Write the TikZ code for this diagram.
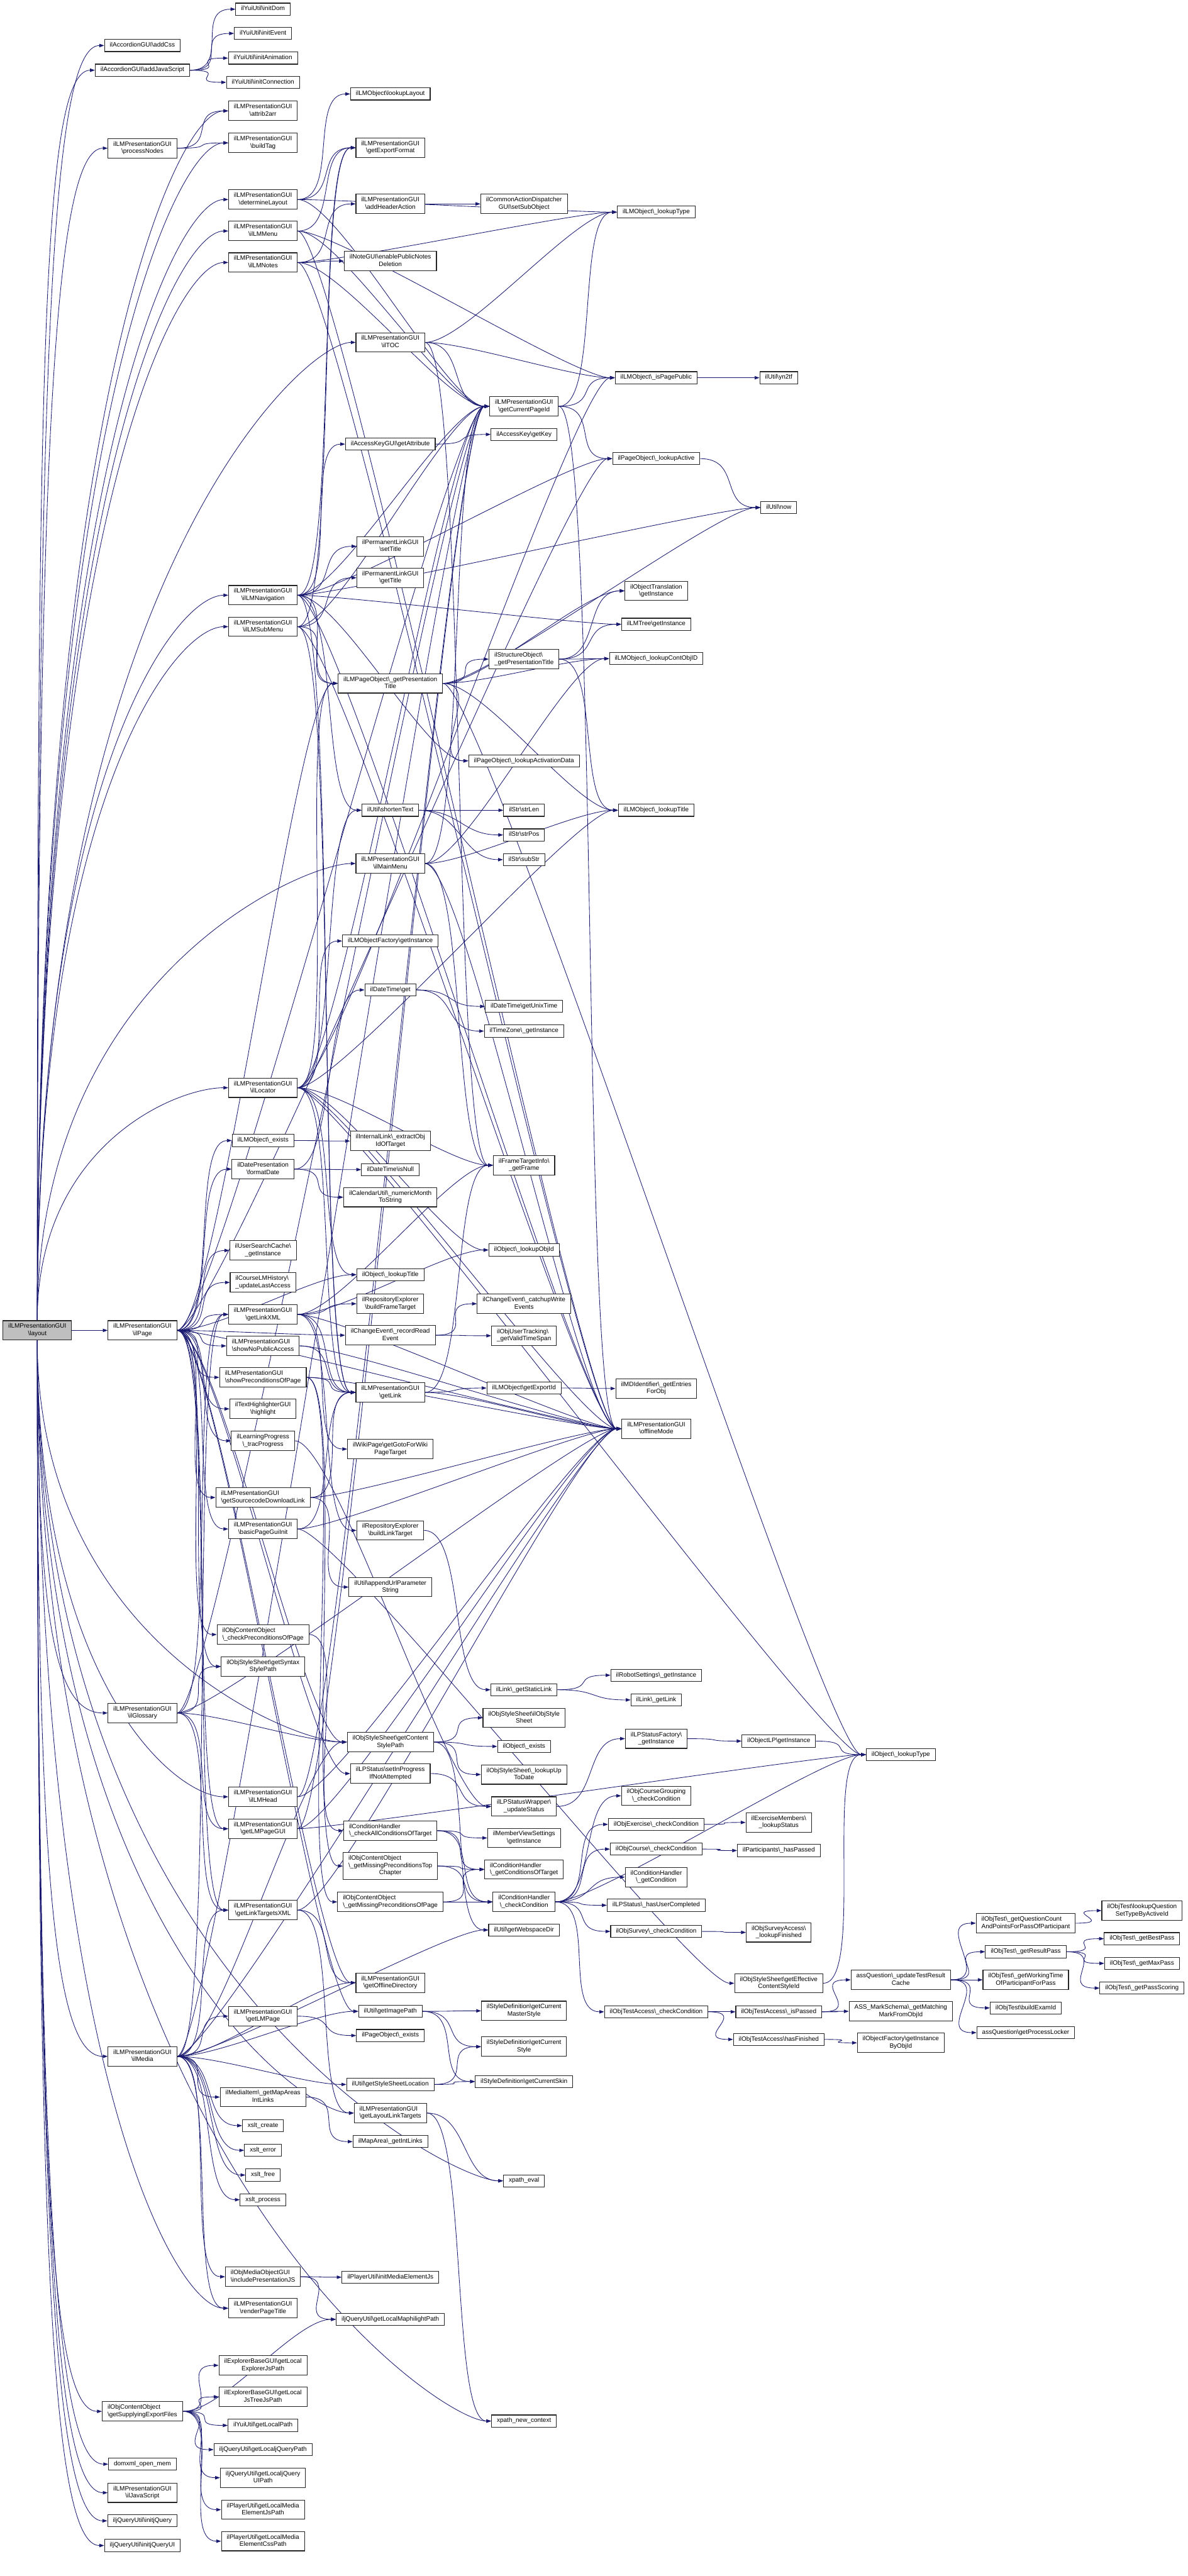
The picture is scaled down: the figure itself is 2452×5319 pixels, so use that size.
\documentclass[tikz,border=0pt]{standalone}
\usepackage{fontspec}
\setmainfont{Liberation Sans}
\usepackage{xcolor}
\usepackage{tikz}
\usetikzlibrary{arrows.meta,calc}
\pgfdeclarelayer{background}
\pgfsetlayers{background,main}
\definecolor{EdgeBlue}{RGB}{25,25,112}
\definecolor{CallerGray}{RGB}{191,191,191}
\newcommand{\bsl}{\textbackslash}
\newcommand{\twoln}[2]{\begin{tabular}{@{}l@{}}#1\\\multicolumn{1}{@{}c@{}}{#2}\end{tabular}}
\newcommand{\threeln}[3]{\begin{tabular}{@{}l@{}}#1\\#2\\\multicolumn{1}{@{}c@{}}{#3}\end{tabular}}

\begin{document}
\begin{tikzpicture}[
    x=1pt, y=1pt,
    fn/.style={draw=black!85, line width=1.4pt, fill=white, inner xsep=11pt, inner ysep=5pt, font=\fontsize{13}{15}\selectfont, execute at begin node=\strut},
    arr/.style={-{Triangle[length=10pt,width=7pt]}, EdgeBlue, line width=1.1pt,
        to path={(\tikztostart.east) .. controls +(85,0) and +(-85,0) .. (\tikztotarget.west)}},
    up/.style={to path={(\tikztostart.north) .. controls ($(\tikztostart.north)!0.75!(\tikztostart.north |- \tikztotarget.west)$) and +(-110,0) .. (\tikztotarget.west)}},
    dn/.style={to path={(\tikztostart.south) .. controls ($(\tikztostart.south)!0.75!(\tikztostart.south |- \tikztotarget.west)$) and +(-110,0) .. (\tikztotarget.west)}}
]
    \useasboundingbox (0,0) rectangle (2452,-5319);

    \node[fn, fill=CallerGray] (layout) at (77,-2747) {\twoln{ilLMPresentationGUI}{\bsl layout}};

    \node[fn] (addCss) at (294,-94) {ilAccordionGUI\bsl addCss};
    \node[fn] (addJs) at (294,-145) {ilAccordionGUI\bsl addJavaScript};
    \node[fn] (procNodes) at (294,-306) {\twoln{ilLMPresentationGUI}{\bsl processNodes}};
    \node[fn] (ilPage) at (294,-2747) {\twoln{ilLMPresentationGUI}{\bsl ilPage}};
    \node[fn] (ilGlossary) at (294,-3537) {\twoln{ilLMPresentationGUI}{\bsl ilGlossary}};
    \node[fn] (ilMedia) at (294,-4246) {\twoln{ilLMPresentationGUI}{\bsl ilMedia}};
    \node[fn] (supplyFiles) at (294,-4979) {\twoln{ilObjContentObject}{\bsl getSupplyingExportFiles}};
    \node[fn] (domxml) at (294,-5088) {domxml\_open\_mem};
    \node[fn] (ilJavaScript) at (294,-5147) {\twoln{ilLMPresentationGUI}{\bsl ilJavaScript}};
    \node[fn] (initjQuery) at (294,-5205) {iljQueryUtil\bsl initjQuery};
    \node[fn] (initjQueryUI) at (294,-5256) {iljQueryUtil\bsl initjQueryUI};

    \node[fn] (initDom) at (543,-19) {ilYuiUtil\bsl initDom};
    \node[fn] (initEvent) at (543,-69) {ilYuiUtil\bsl initEvent};
    \node[fn] (initAnim) at (543,-120) {ilYuiUtil\bsl initAnimation};
    \node[fn] (initConn) at (543,-170) {ilYuiUtil\bsl initConnection};
    \node[fn] (attrib) at (543,-229) {\twoln{ilLMPresentationGUI}{\bsl attrib2arr}};
    \node[fn] (buildTag) at (543,-295) {\twoln{ilLMPresentationGUI}{\bsl buildTag}};
    \node[fn] (detLayout) at (543,-412) {\twoln{ilLMPresentationGUI}{\bsl determineLayout}};
    \node[fn] (lmMenu) at (543,-477) {\twoln{ilLMPresentationGUI}{\bsl ilLMMenu}};
    \node[fn] (lmNotes) at (543,-542) {\twoln{ilLMPresentationGUI}{\bsl ilLMNotes}};
    \node[fn] (lmNav) at (543,-1229) {\twoln{ilLMPresentationGUI}{\bsl ilLMNavigation}};
    \node[fn] (lmSubMenu) at (543,-1294) {\twoln{ilLMPresentationGUI}{\bsl ilLMSubMenu}};
    \node[fn] (locator) at (543,-2246) {\twoln{ilLMPresentationGUI}{\bsl ilLocator}};
    \node[fn] (lmExists) at (543,-2355) {ilLMObject\bsl\_exists};
    \node[fn] (formatDate) at (543,-2414) {\twoln{ilDatePresentation}{\bsl formatDate}};
    \node[fn] (searchCache) at (543,-2582) {\twoln{ilUserSearchCache\bsl}{\_getInstance}};
    \node[fn] (lmHistory) at (543,-2648) {\twoln{ilCourseLMHistory\bsl}{\_updateLastAccess}};
    \node[fn] (linkXML) at (543,-2714) {\twoln{ilLMPresentationGUI}{\bsl getLinkXML}};
    \node[fn] (noPublic) at (543,-2779) {\twoln{ilLMPresentationGUI}{\bsl showNoPublicAccess}};
    \node[fn] (showPrecond) at (543,-2844) {\twoln{ilLMPresentationGUI}{\bsl showPreconditionsOfPage}};
    \node[fn] (highlight) at (543,-2909) {\twoln{ilTextHighlighterGUI}{\bsl highlight}};
    \node[fn] (tracProgress) at (543,-2975) {\twoln{ilLearningProgress}{\bsl\_tracProgress}};
    \node[fn] (srcLink) at (543,-3092) {\twoln{ilLMPresentationGUI}{\bsl getSourcecodeDownloadLink}};
    \node[fn] (basicInit) at (543,-3157) {\twoln{ilLMPresentationGUI}{\bsl basicPageGuiInit}};
    \node[fn] (checkPrecond) at (543,-3375) {\twoln{ilObjContentObject}{\bsl\_checkPreconditionsOfPage}};
    \node[fn] (syntaxStyle) at (543,-3441) {\twoln{ilObjStyleSheet\bsl getSyntax}{StylePath}};
    \node[fn] (lmHead) at (543,-3710) {\twoln{ilLMPresentationGUI}{\bsl ilLMHead}};
    \node[fn] (lmPageGUI) at (543,-3776) {\twoln{ilLMPresentationGUI}{\bsl getLMPageGUI}};
    \node[fn] (linkTargetsXML) at (543,-3944) {\twoln{ilLMPresentationGUI}{\bsl getLinkTargetsXML}};
    \node[fn] (getLMPage) at (543,-4163) {\twoln{ilLMPresentationGUI}{\bsl getLMPage}};
    \node[fn] (mapAreas) at (543,-4330) {\twoln{ilMediaItem\bsl\_getMapAreas}{IntLinks}};
    \node[fn] (xsltCreate) at (543,-4389) {xslt\_create};
    \node[fn] (xsltError) at (543,-4440) {xslt\_error};
    \node[fn] (xsltFree) at (543,-4491) {xslt\_free};
    \node[fn] (xsltProcess) at (543,-4542) {xslt\_process};
    \node[fn] (includeJS) at (543,-4701) {\twoln{ilObjMediaObjectGUI}{\bsl includePresentationJS}};
    \node[fn] (renderTitle) at (543,-4766) {\twoln{ilLMPresentationGUI}{\bsl renderPageTitle}};
    \node[fn] (explorerJs) at (543,-4884) {\twoln{ilExplorerBaseGUI\bsl getLocal}{ExplorerJsPath}};
    \node[fn] (jsTree) at (543,-4949) {\twoln{ilExplorerBaseGUI\bsl getLocal}{JsTreeJsPath}};
    \node[fn] (yuiLocal) at (543,-5008) {ilYuiUtil\bsl getLocalPath};
    \node[fn] (jQueryPath) at (543,-5058) {iljQueryUtil\bsl getLocaljQueryPath};
    \node[fn] (jQueryUIPath) at (543,-5116) {\twoln{iljQueryUtil\bsl getLocaljQuery}{UIPath}};
    \node[fn] (mediaJsPath) at (543,-5182) {\twoln{ilPlayerUtil\bsl getLocalMedia}{ElementJsPath}};
    \node[fn] (mediaCssPath) at (543,-5247) {\twoln{ilPlayerUtil\bsl getLocalMedia}{ElementCssPath}};

    \node[fn] (lookupLayout) at (806,-194) {ilLMObject\bsl lookupLayout};
    \node[fn] (exportFormat) at (806,-305) {\twoln{ilLMPresentationGUI}{\bsl getExportFormat}};
    \node[fn] (headerAction) at (806,-421) {\twoln{ilLMPresentationGUI}{\bsl addHeaderAction}};
    \node[fn] (notesDeletion) at (806,-539) {\twoln{ilNoteGUI\bsl enablePublicNotes}{Deletion}};
    \node[fn] (ilTOC) at (806,-707) {\twoln{ilLMPresentationGUI}{\bsl ilTOC}};
    \node[fn] (accessAttr) at (806,-917) {ilAccessKeyGUI\bsl getAttribute};
    \node[fn] (plSetTitle) at (806,-1128) {\twoln{ilPermanentLinkGUI}{\bsl setTitle}};
    \node[fn] (plGetTitle) at (806,-1193) {\twoln{ilPermanentLinkGUI}{\bsl getTitle}};
    \node[fn] (lmPageTitle) at (806,-1411) {\twoln{ilLMPageObject\bsl\_getPresentation}{Title}};
    \node[fn] (shorten) at (806,-1673) {ilUtil\bsl shortenText};
    \node[fn] (mainMenu) at (806,-1783) {\twoln{ilLMPresentationGUI}{\bsl ilMainMenu}};
    \node[fn] (lmFactory) at (806,-1943) {ilLMObjectFactory\bsl getInstance};
    \node[fn] (dtGet) at (806,-2044) {ilDateTime\bsl get};
    \node[fn] (extractObj) at (806,-2356) {\twoln{ilInternalLink\bsl\_extractObj}{IdOfTarget}};
    \node[fn] (dtIsNull) at (806,-2415) {ilDateTime\bsl isNull};
    \node[fn] (numMonth) at (806,-2472) {\twoln{ilCalendarUtil\bsl\_numericMonth}{ToString}};
    \node[fn] (objTitle) at (806,-2632) {ilObject\bsl\_lookupTitle};
    \node[fn] (frameTarget) at (806,-2692) {\twoln{ilRepositoryExplorer}{\bsl buildFrameTarget}};
    \node[fn] (readEvent) at (806,-2757) {\twoln{ilChangeEvent\bsl\_recordRead}{Event}};
    \node[fn] (getLink) at (806,-2875) {\twoln{ilLMPresentationGUI}{\bsl getLink}};
    \node[fn] (wikiTarget) at (806,-2992) {\twoln{ilWikiPage\bsl getGotoForWiki}{PageTarget}};
    \node[fn] (linkTarget) at (806,-3160) {\twoln{ilRepositoryExplorer}{\bsl buildLinkTarget}};
    \node[fn] (appendUrl) at (806,-3277) {\twoln{ilUtil\bsl appendUrlParameter}{String}};
    \node[fn] (contentStyle) at (806,-3597) {\twoln{ilObjStyleSheet\bsl getContent}{StylePath}};
    \node[fn] (lpInProgress) at (806,-3662) {\twoln{ilLPStatus\bsl setInProgress}{IfNotAttempted}};
    \node[fn] (checkAllCond) at (806,-3780) {\twoln{ilConditionHandler}{\bsl\_checkAllConditionsOfTarget}};
    \node[fn] (missTop) at (806,-3853) {\threeln{ilObjContentObject}{\bsl\_getMissingPreconditionsTop}{Chapter}};
    \node[fn] (missPage) at (806,-3927) {\twoln{ilObjContentObject}{\bsl\_getMissingPreconditionsOfPage}};
    \node[fn] (offlineDir) at (806,-4094) {\twoln{ilLMPresentationGUI}{\bsl getOfflineDirectory}};
    \node[fn] (imagePath) at (806,-4153) {ilUtil\bsl getImagePath};
    \node[fn] (pageExists) at (806,-4203) {ilPageObject\bsl\_exists};
    \node[fn] (styleLoc) at (806,-4304) {ilUtil\bsl getStyleSheetLocation};
    \node[fn] (layoutTargets) at (806,-4363) {\twoln{ilLMPresentationGUI}{\bsl getLayoutLinkTargets}};
    \node[fn] (mapIntLinks) at (806,-4422) {ilMapArea\bsl\_getIntLinks};
    \node[fn] (initMedia) at (806,-4702) {ilPlayerUtil\bsl initMediaElementJs};
    \node[fn] (maphilight) at (806,-4789) {iljQueryUtil\bsl getLocalMaphilightPath};

    \node[fn] (setSubObject) at (1082,-421) {\twoln{ilCommonActionDispatcher}{GUI\bsl setSubObject}};
    \node[fn] (curPageId) at (1082,-839) {\twoln{ilLMPresentationGUI}{\bsl getCurrentPageId}};
    \node[fn] (getKey) at (1082,-897) {ilAccessKey\bsl getKey};
    \node[fn] (stPresTitle) at (1082,-1361) {\twoln{ilStructureObject\bsl}{\_getPresentationTitle}};
    \node[fn] (activationData) at (1082,-1571) {ilPageObject\bsl\_lookupActivationData};
    \node[fn] (strLen) at (1082,-1673) {ilStr\bsl strLen};
    \node[fn] (strPos) at (1082,-1724) {ilStr\bsl strPos};
    \node[fn] (subStr) at (1082,-1775) {ilStr\bsl subStr};
    \node[fn] (unixTime) at (1082,-2078) {ilDateTime\bsl getUnixTime};
    \node[fn] (timeZone) at (1082,-2129) {ilTimeZone\bsl\_getInstance};
    \node[fn] (getFrame) at (1082,-2406) {\twoln{ilFrameTargetInfo\bsl}{\_getFrame}};
    \node[fn] (lookupObjId) at (1082,-2581) {ilObject\bsl\_lookupObjId};
    \node[fn] (catchupWrite) at (1082,-2692) {\twoln{ilChangeEvent\bsl\_catchupWrite}{Events}};
    \node[fn] (timeSpan) at (1082,-2758) {\twoln{ilObjUserTracking\bsl}{\_getValidTimeSpan}};
    \node[fn] (exportId) at (1082,-2866) {ilLMObject\bsl getExportId};
    \node[fn] (staticLink) at (1082,-3489) {ilLink\bsl\_getStaticLink};
    \node[fn] (styleSheet) at (1082,-3547) {\twoln{ilObjStyleSheet\bsl ilObjStyle}{Sheet}};
    \node[fn] (objExists) at (1082,-3606) {ilObject\bsl\_exists};
    \node[fn] (upToDate) at (1082,-3664) {\twoln{ilObjStyleSheet\bsl\_lookupUp}{ToDate}};
    \node[fn] (updateStatus) at (1082,-3730) {\twoln{ilLPStatusWrapper\bsl}{\_updateStatus}};
    \node[fn] (memberView) at (1082,-3795) {\twoln{ilMemberViewSettings}{\bsl getInstance}};
    \node[fn] (condOfTarget) at (1082,-3860) {\twoln{ilConditionHandler}{\bsl\_getConditionsOfTarget}};
    \node[fn] (checkCond) at (1082,-3927) {\twoln{ilConditionHandler}{\bsl\_checkCondition}};
    \node[fn] (webspaceDir) at (1082,-3985) {ilUtil\bsl getWebspaceDir};
    \node[fn] (masterStyle) at (1082,-4152) {\twoln{ilStyleDefinition\bsl getCurrent}{MasterStyle}};
    \node[fn] (curStyle) at (1082,-4226) {\twoln{ilStyleDefinition\bsl getCurrent}{Style}};
    \node[fn] (curSkin) at (1082,-4298) {ilStyleDefinition\bsl getCurrentSkin};
    \node[fn] (xpathEval) at (1082,-4503) {xpath\_eval};
    \node[fn] (xpathCtx) at (1082,-4999) {xpath\_new\_context};

    \node[fn] (lmLookupType) at (1355,-438) {ilLMObject\bsl\_lookupType};
    \node[fn] (pagePublic) at (1355,-780) {ilLMObject\bsl\_isPagePublic};
    \node[fn] (lookupActive) at (1355,-947) {ilPageObject\bsl\_lookupActive};
    \node[fn] (objTranslation) at (1355,-1220) {\twoln{ilObjectTranslation}{\bsl getInstance}};
    \node[fn] (lmTree) at (1355,-1289) {ilLMTree\bsl getInstance};
    \node[fn] (contObjId) at (1355,-1360) {ilLMObject\bsl\_lookupContObjID};
    \node[fn] (lmLookupTitle) at (1355,-1673) {ilLMObject\bsl\_lookupTitle};
    \node[fn] (entriesForObj) at (1355,-2867) {\twoln{ilMDIdentifier\bsl\_getEntries}{ForObj}};
    \node[fn] (offlineMode) at (1355,-2950) {\twoln{ilLMPresentationGUI}{\bsl offlineMode}};
    \node[fn] (robotSettings) at (1355,-3459) {ilRobotSettings\bsl\_getInstance};
    \node[fn] (linkGetLink) at (1355,-3510) {ilLink\bsl\_getLink};
    \node[fn] (lpFactory) at (1355,-3590) {\twoln{ilLPStatusFactory\bsl}{\_getInstance}};
    \node[fn] (crsGrouping) at (1355,-3708) {\twoln{ilObjCourseGrouping}{\bsl\_checkCondition}};
    \node[fn] (excCheck) at (1355,-3767) {ilObjExercise\bsl\_checkCondition};
    \node[fn] (crsCheck) at (1355,-3818) {ilObjCourse\bsl\_checkCondition};
    \node[fn] (getCondition) at (1355,-3876) {\twoln{ilConditionHandler}{\bsl\_getCondition}};
    \node[fn] (hasCompleted) at (1355,-3934) {ilLPStatus\bsl\_hasUserCompleted};
    \node[fn] (svyCheck) at (1355,-3988) {ilObjSurvey\bsl\_checkCondition};
    \node[fn] (tstCheck) at (1355,-4154) {ilObjTestAccess\bsl\_checkCondition};

    \node[fn] (yn2tf) at (1608,-780) {ilUtil\bsl yn2tf};
    \node[fn] (utilNow) at (1608,-1048) {ilUtil\bsl now};
    \node[fn] (objectLP) at (1608,-3595) {ilObjectLP\bsl getInstance};
    \node[fn] (excMembers) at (1608,-3763) {\twoln{ilExerciseMembers\bsl}{\_lookupStatus}};
    \node[fn] (hasPassed) at (1608,-3821) {ilParticipants\bsl\_hasPassed};
    \node[fn] (svyFinished) at (1608,-3990) {\twoln{ilObjSurveyAccess\bsl}{\_lookupFinished}};
    \node[fn] (effStyleId) at (1608,-4095) {\twoln{ilObjStyleSheet\bsl getEffective}{ContentStyleId}};
    \node[fn] (isPassed) at (1608,-4154) {ilObjTestAccess\bsl\_isPassed};
    \node[fn] (hasFinished) at (1608,-4211) {ilObjTestAccess\bsl hasFinished};

    \node[fn] (objLookupType) at (1860,-3623) {ilObject\bsl\_lookupType};
    \node[fn] (updateCache) at (1860,-4088) {\twoln{assQuestion\bsl\_updateTestResult}{Cache}};
    \node[fn] (markSchema) at (1860,-4153) {\twoln{ASS\_MarkSchema\bsl\_getMatching}{MarkFromObjId}};
    \node[fn] (factoryById) at (1860,-4218) {\twoln{ilObjectFactory\bsl getInstance}{ByObjId}};

    \node[fn] (qCount) at (2118,-3971) {\twoln{ilObjTest\bsl\_getQuestionCount}{AndPointsForPassOfParticipant}};
    \node[fn] (resultPass) at (2118,-4030) {ilObjTest\bsl\_getResultPass};
    \node[fn] (workingTime) at (2118,-4088) {\twoln{ilObjTest\bsl\_getWorkingTime}{OfParticipantForPass}};
    \node[fn] (examId) at (2118,-4146) {ilObjTest\bsl buildExamId};
    \node[fn] (procLocker) at (2118,-4197) {assQuestion\bsl getProcessLocker};

    \node[fn] (qSetType) at (2358,-3945) {\twoln{ilObjTest\bsl lookupQuestion}{SetTypeByActiveId}};
    \node[fn] (bestPass) at (2358,-4003) {ilObjTest\bsl\_getBestPass};
    \node[fn] (maxPass) at (2358,-4054) {ilObjTest\bsl\_getMaxPass};
    \node[fn] (passScoring) at (2358,-4105) {ilObjTest\bsl\_getPassScoring};

    \begin{pgfonlayer}{background}
    \draw[arr, up] (layout) edge (addCss) edge (addJs) edge (attrib) edge (procNodes) edge (buildTag) edge (detLayout) edge (lmMenu) edge (lmNotes) edge (ilTOC) edge (lmNav) edge (lmSubMenu) edge (mainMenu) edge (locator);
    \draw[arr] (layout) edge (ilPage);
    \draw[arr, dn] (layout) edge (ilGlossary) edge (contentStyle) edge (lmHead) edge (ilMedia) edge (renderTitle) edge (layoutTargets) edge (xpathEval) edge (xpathCtx) edge (supplyFiles) edge (domxml) edge (ilJavaScript) edge (initjQuery) edge (initjQueryUI);

    \draw[arr] (addJs) edge (initDom) edge (initEvent) edge (initAnim) edge (initConn);
    \draw[arr] (procNodes) edge (attrib) edge (buildTag);
    \draw[arr] (detLayout) edge (lookupLayout) edge (exportFormat) edge (lmLookupType) edge (curPageId);
    \draw[arr] (lmMenu) edge (exportFormat) edge (curPageId) edge (pagePublic) edge (offlineMode);
    \draw[arr] (lmNotes) edge (headerAction) edge (notesDeletion) edge (curPageId) edge (lmLookupType) edge (offlineMode);
    \draw[arr] (headerAction) edge (setSubObject);
    \draw[arr] (ilTOC) edge (lmLookupType) edge (curPageId) edge (pagePublic) edge (getFrame);
    \draw[arr] (accessAttr) edge (getKey);
    \draw[arr] (lmNav) edge (accessAttr) edge (plSetTitle) edge (lmPageTitle) edge (shorten) edge (curPageId) edge (lookupActive) edge (lmTree) edge (activationData) edge (utilNow) edge (getLink) edge (offlineMode) edge (exportFormat);
    \draw[arr] (lmSubMenu) edge (plGetTitle) edge (lmPageTitle) edge (curPageId) edge (exportFormat) edge (getLink) edge (offlineMode);
    \draw[arr] (lmPageTitle) edge (stPresTitle) edge (activationData) edge (contObjId) edge (lmLookupTitle) edge (objTranslation) edge (utilNow) edge (objLookupType);
    \draw[arr] (stPresTitle) edge (contObjId) edge (lmLookupTitle) edge (objTranslation) edge (lmTree);
    \draw[arr] (shorten) edge (strLen) edge (strPos) edge (subStr);
    \draw[arr] (mainMenu) edge (curPageId) edge (contObjId) edge (lmLookupTitle) edge (getFrame) edge (offlineMode);
    \draw[arr] (locator) edge (lmFactory) edge (shorten) edge (lmPageTitle) edge (objTitle) edge (getFrame) edge (lookupObjId) edge (lmLookupTitle) edge (curPageId) edge (pagePublic) edge (getLink) edge (offlineMode) edge (objLookupType);
    \draw[arr] (lmExists) edge (extractObj);
    \draw[arr] (formatDate) edge (dtGet) edge (dtIsNull) edge (numMonth);
    \draw[arr] (dtGet) edge (unixTime) edge (timeZone);
    \draw[arr] (ilPage) edge (lmExists) edge (formatDate) edge (searchCache) edge (lmHistory) edge (linkXML) edge (noPublic) edge (showPrecond) edge (highlight) edge (tracProgress) edge (srcLink) edge (basicInit) edge (checkPrecond) edge (syntaxStyle) edge (lmPageGUI) edge (linkTargetsXML) edge (readEvent) edge (contentStyle) edge (lpInProgress) edge (curPageId) edge (lookupActive) edge (lmPageTitle) edge (objTitle) edge (offlineMode) edge (offlineDir) edge (imagePath);
    \draw[arr] (linkXML) edge (frameTarget) edge (getLink) edge (wikiTarget) edge (linkTarget) edge (getFrame) edge (lookupObjId) edge (offlineMode);
    \draw[arr] (noPublic) edge (getLink) edge (offlineMode);
    \draw[arr] (showPrecond) edge (getLink) edge (missTop) edge (missPage) edge (offlineMode);
    \draw[arr] (tracProgress) edge (updateStatus);
    \draw[arr] (srcLink) edge (getLink) edge (appendUrl) edge (offlineMode);
    \draw[arr] (basicInit) edge (getLink) edge (offlineMode) edge (effStyleId);
    \draw[arr] (checkPrecond) edge (checkAllCond);
    \draw[arr] (ilGlossary) edge (linkXML) edge (syntaxStyle) edge (contentStyle) edge (linkTargetsXML) edge (lmPageGUI) edge (curPageId) edge (offlineMode);
    \draw[arr] (lmHead) edge (offlineMode) edge (curPageId);
    \draw[arr] (lmPageGUI) edge (offlineMode) edge (curPageId) edge (objLookupType);
    \draw[arr] (linkTargetsXML) edge (layoutTargets) edge (offlineMode) edge (offlineDir);
    \draw[arr] (getLink) edge (exportId) edge (getFrame) edge (offlineMode);
    \draw[arr] (exportId) edge (entriesForObj);
    \draw[arr] (readEvent) edge (catchupWrite) edge (timeSpan);
    \draw[arr] (linkTarget) edge (staticLink);
    \draw[arr] (staticLink) edge (robotSettings) edge (linkGetLink);
    \draw[arr] (contentStyle) edge (styleSheet) edge (objExists) edge (upToDate) edge (webspaceDir);
    \draw[arr] (lpInProgress) edge (updateStatus);
    \draw[arr] (updateStatus) edge (lpFactory);
    \draw[arr] (lpFactory) edge (objectLP);
    \draw[arr] (objectLP) edge (objLookupType);
    \draw[arr] (checkAllCond) edge (memberView) edge (condOfTarget) edge (checkCond);
    \draw[arr] (missTop) edge (condOfTarget) edge (checkCond);
    \draw[arr] (missPage) edge (condOfTarget) edge (checkCond);
    \draw[arr] (checkCond) edge (crsGrouping) edge (excCheck) edge (crsCheck) edge (getCondition) edge (hasCompleted) edge (svyCheck) edge (tstCheck) edge (objLookupType);
    \draw[arr] (excCheck) edge (excMembers);
    \draw[arr] (crsCheck) edge (hasPassed);
    \draw[arr] (svyCheck) edge (svyFinished);
    \draw[arr] (tstCheck) edge (isPassed) edge (hasFinished);
    \draw[arr] (isPassed) edge (updateCache) edge (markSchema);
    \draw[arr] (hasFinished) edge (factoryById);
    \draw[arr] (updateCache) edge (qCount) edge (resultPass) edge (workingTime) edge (examId) edge (procLocker);
    \draw[arr] (qCount) edge (qSetType);
    \draw[arr] (resultPass) edge (bestPass) edge (maxPass) edge (passScoring);
    \draw[arr] (effStyleId) edge (objLookupType);
    \draw[arr] (ilMedia) edge (getLMPage) edge (mapAreas) edge (xsltCreate) edge (xsltError) edge (xsltFree) edge (xsltProcess) edge (includeJS) edge (renderTitle) edge (styleLoc) edge (imagePath) edge (offlineDir) edge (linkXML) edge (linkTargetsXML) edge (curPageId) edge (webspaceDir) edge (offlineMode) edge (contentStyle);
    \draw[arr] (getLMPage) edge (pageExists);
    \draw[arr] (mapAreas) edge (mapIntLinks);
    \draw[arr] (imagePath) edge (masterStyle) edge (curStyle) edge (curSkin);
    \draw[arr] (styleLoc) edge (curStyle) edge (curSkin);
    \draw[arr] (layoutTargets) edge (xpathEval) edge (xpathCtx);
    \draw[arr] (includeJS) edge (initMedia) edge (maphilight);
    \draw[arr] (supplyFiles) edge (explorerJs) edge (jsTree) edge (yuiLocal) edge (jQueryPath) edge (jQueryUIPath) edge (mediaJsPath) edge (mediaCssPath) edge (maphilight);
    \draw[arr] (curPageId) edge (lmLookupType) edge (pagePublic) edge (lookupActive) edge (offlineMode);
    \draw[arr] (pagePublic) edge (yn2tf);
    \draw[arr] (lookupActive) edge (utilNow);
    \end{pgfonlayer}
\end{tikzpicture}
\end{document}
